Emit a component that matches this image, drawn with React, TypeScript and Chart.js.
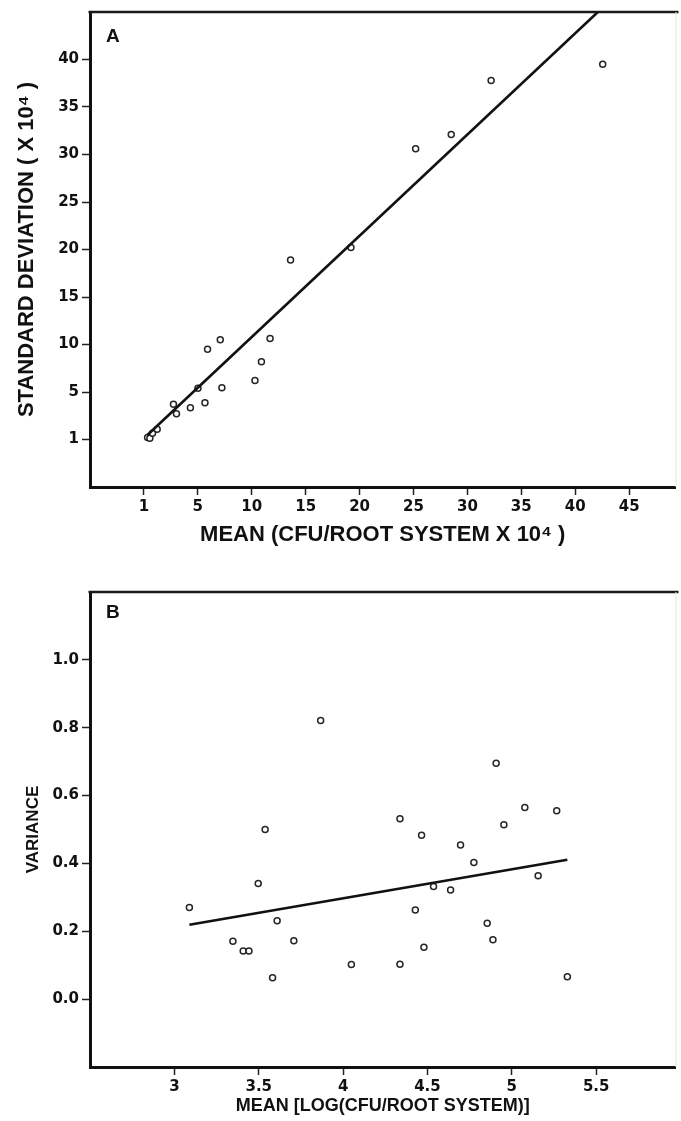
import React, { useEffect, useRef } from "react";
import { Chart, registerables } from "chart.js";

Chart.register(...registerables);

// ---------- Panel A data (axis units; the tick labelled "1" sits at 0) ----------
const A_MEAN = [0.34, 0.55, 0.8, 1.23, 2.74, 3.02, 4.31, 5.01, 5.66, 5.9, 7.08, 7.23, 10.3, 10.9, 11.7, 13.6, 19.2, 25.2, 28.5, 32.2, 42.55];
const A_SD = [0.21, 0.14, 0.66, 1.08, 3.71, 2.7, 3.33, 5.39, 3.86, 9.49, 10.5, 5.46, 6.2, 8.19, 10.64, 18.9, 20.2, 30.6, 32.1, 37.8, 39.5];
const A_FIT_X = [0.3, 42.1];
const A_FIT_Y = [0.45, 45.0];
const A_X_TICKS = [0, 5, 10, 15, 20, 25, 30, 35, 40, 45];
const A_X_LABELS = ["1", "5", "10", "15", "20", "25", "30", "35", "40", "45"];
const A_Y_TICKS = [0, 5, 10, 15, 20, 25, 30, 35, 40];
const A_Y_LABELS = ["1", "5", "10", "15", "20", "25", "30", "35", "40"];
const A_X_TITLE = "MEAN (CFU/ROOT SYSTEM X 10\u2074 )";
const A_Y_TITLE = "STANDARD DEVIATION ( X 10\u2074 )";

// ---------- Panel B data ----------
const B_MEAN = [3.867, 3.538, 4.907, 5.077, 5.266, 4.337, 4.953, 4.465, 3.089, 3.497, 3.609, 3.347, 3.408, 3.442, 3.708, 3.582, 4.049, 4.696, 4.775, 5.156, 4.536, 4.637, 4.428, 4.854, 4.888, 4.479, 4.337, 5.329];
const B_VAR = [0.821, 0.5, 0.695, 0.565, 0.555, 0.532, 0.514, 0.483, 0.27, 0.341, 0.231, 0.171, 0.142, 0.142, 0.172, 0.063, 0.102, 0.454, 0.403, 0.364, 0.332, 0.322, 0.263, 0.224, 0.175, 0.153, 0.103, 0.066];
const B_FIT_X = [3.089, 5.329];
const B_FIT_Y = [0.219, 0.411];
const B_X_TICKS = [3, 3.5, 4, 4.5, 5, 5.5];
const B_X_LABELS = ["3", "3.5", "4", "4.5", "5", "5.5"];
const B_Y_TICKS = [0, 0.2, 0.4, 0.6, 0.8, 1.0];
const B_Y_LABELS = ["0.0", "0.2", "0.4", "0.6", "0.8", "1.0"];
const B_X_TITLE = "MEAN [LOG(CFU/ROOT SYSTEM)]";
const B_Y_TITLE = "VARIANCE";

const INK = "#111";
const TICK_FONT = { family: "'DejaVu Sans'", weight: "bold" as const, size: 15 };

const framePlugin = {
  id: "frame",
  afterDraw(chart: any, _args: any, opts: any) {
    const { ctx, chartArea } = chart;
    const { left, top, right, bottom } = chartArea;
    ctx.save();
    ctx.strokeStyle = "#1a1a1a";
    ctx.lineWidth = 2.5;
    ctx.beginPath();
    ctx.moveTo(left - 1.5, top);
    ctx.lineTo(right + 3, top);
    ctx.stroke();
    ctx.strokeStyle = "#e4e4e4";
    ctx.lineWidth = 1;
    ctx.beginPath();
    ctx.moveTo(right + 0.5, top);
    ctx.lineTo(right + 0.5, bottom);
    ctx.stroke();
    ctx.fillStyle = INK;
    ctx.font = "bold 19px 'Liberation Sans'";
    ctx.textAlign = "left";
    ctx.textBaseline = "middle";
    ctx.fillText(opts.letter, left + 16, top + (opts.letterDy || 25));
    ctx.restore();
  },
};

function axis(
  min: number,
  max: number,
  ticks: number[],
  labels: string[],
  title: string,
  horizontal: boolean,
  size: number,
  titlePad: number,
  titleSize: number
) {
  return {
    type: "linear" as const,
    min,
    max,
    afterBuildTicks: (s: any) => {
      s.ticks = ticks.map((v) => ({ value: v }));
    },
    afterFit: (s: any) => {
      if (horizontal) s.height = size;
      else s.width = size;
    },
    ticks: {
      autoSkip: false,
      maxRotation: 0,
      padding: 3,
      color: INK,
      font: TICK_FONT,
      callback: (_v: any, i: number) => labels[i],
    },
    grid: {
      display: true,
      drawOnChartArea: false,
      drawTicks: true,
      tickLength: 8,
      tickWidth: 1.5,
      tickColor: "#222",
    },
    border: { display: true, width: 3, color: INK },
    title: {
      display: true,
      text: title,
      color: INK,
      font: { family: "'Liberation Sans'", weight: "bold" as const, size: titleSize },
      padding: horizontal ? { top: 0, bottom: titlePad } : { top: titlePad, bottom: 0 },
    },
  };
}

function pts(xs: number[], ys: number[]) {
  return xs.map((x, i) => ({ x, y: ys[i] }));
}

function buildConfig(p: any) {
  return {
    type: "scatter" as const,
    data: {
      datasets: [
        {
          type: "line" as const,
          data: pts(p.fitX, p.fitY),
          borderColor: INK,
          borderWidth: 2.6,
          pointRadius: 0,
          fill: false,
          tension: 0,
        },
        {
          data: pts(p.x, p.y),
          pointStyle: "circle",
          pointRadius: 3,
          pointBorderWidth: 1.5,
          borderColor: "#262626",
          backgroundColor: "#fff",
        },
      ],
    },
    options: {
      responsive: false,
      animation: false as const,
      devicePixelRatio: 1,
      layout: { padding: { top: p.padTop, right: 3, bottom: 0, left: 0 } },
      plugins: {
        legend: { display: false },
        tooltip: { enabled: false },
        frame: { letter: p.letter, letterDy: p.letterDy },
      },
      scales: {
        x: axis(p.xMin, p.xMax, p.xTicks, p.xLabels, p.xTitle, true, p.xAxisH, p.xTitlePad, p.xTitleSize),
        y: axis(p.yMin, p.yMax, p.yTicks, p.yLabels, p.yTitle, false, 90, p.yTitlePad, p.yTitleSize),
      },
    },
    plugins: [framePlugin],
  };
}

function Panel({ p, height }: { p: any; height: number }) {
  const ref = useRef<HTMLCanvasElement | null>(null);
  useEffect(() => {
    if (!ref.current) return;
    const chart = new Chart(ref.current, buildConfig(p) as any);
    return () => chart.destroy();
  }, []);
  return <canvas ref={ref} width={681} height={height} style={{ display: "block" }} />;
}

const PANEL_A = {
  letter: "A",
  letterDy: 25,
  x: A_MEAN,
  y: A_SD,
  fitX: A_FIT_X,
  fitY: A_FIT_Y,
  xMin: -5,
  xMax: 49.3,
  yMin: -5,
  yMax: 45,
  xTicks: A_X_TICKS,
  xLabels: A_X_LABELS,
  yTicks: A_Y_TICKS,
  yLabels: A_Y_LABELS,
  xTitle: A_X_TITLE,
  yTitle: A_Y_TITLE,
  padTop: 10,
  xAxisH: 73,
  xTitlePad: 12,
  yTitlePad: 14,
  xTitleSize: 22,
  yTitleSize: 22,
};

const PANEL_B = {
  letter: "B",
  letterDy: 21,
  x: B_MEAN,
  y: B_VAR,
  fitX: B_FIT_X,
  fitY: B_FIT_Y,
  xMin: 2.5,
  xMax: 5.97,
  yMin: -0.2,
  yMax: 1.2,
  xTicks: B_X_TICKS,
  xLabels: B_X_LABELS,
  yTicks: B_Y_TICKS,
  yLabels: B_Y_LABELS,
  xTitle: B_X_TITLE,
  yTitle: B_Y_TITLE,
  padTop: 32,
  xAxisH: 54,
  xTitlePad: 4,
  yTitlePad: 23,
  xTitleSize: 18,
  yTitleSize: 17,
};

export default function App() {
  return (
    <div
      style={{
        position: "absolute",
        left: 0,
        top: 0,
        width: 681,
        height: 1121,
        overflow: "hidden",
        background: "#fff",
      }}
    >
      <Panel p={PANEL_A} height={560} />
      <Panel p={PANEL_B} height={561} />
    </div>
  );
}
